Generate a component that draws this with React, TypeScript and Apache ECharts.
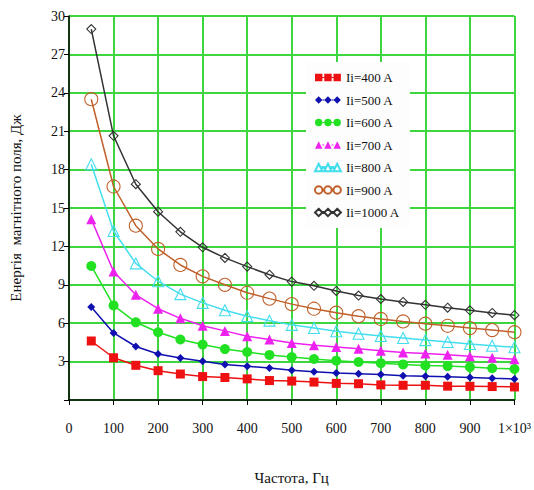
import React, { useEffect, useRef } from "react";
import * as echarts from "echarts";

const frequencies = [50, 100, 150, 200, 250, 300, 350, 400, 450, 500, 550, 600, 650, 700, 750, 800, 850, 900, 950, 1000];
const seriesNames = ["Ii=400 A", "Ii=500 A", "Ii=600 A", "Ii=700 A", "Ii=800 A", "Ii=900 A", "Ii=1000 A"];
const i400 = [4.61, 3.3, 2.71, 2.29, 2.03, 1.83, 1.76, 1.65, 1.52, 1.48, 1.4, 1.3, 1.27, 1.18, 1.15, 1.15, 1.08, 1.07, 1.05, 1.02];
const i500 = [7.26, 5.24, 4.18, 3.6, 3.28, 3.02, 2.77, 2.64, 2.5, 2.33, 2.21, 2.1, 2.06, 2.0, 1.9, 1.86, 1.82, 1.76, 1.7, 1.65];
const i600 = [10.47, 7.39, 6.07, 5.29, 4.73, 4.33, 3.98, 3.75, 3.52, 3.35, 3.2, 3.07, 2.97, 2.88, 2.78, 2.7, 2.65, 2.57, 2.48, 2.42];
const i700 = [14.13, 10.04, 8.22, 7.13, 6.38, 5.8, 5.4, 4.98, 4.73, 4.46, 4.28, 4.14, 4.01, 3.85, 3.72, 3.63, 3.53, 3.42, 3.3, 3.18];
const i800 = [18.42, 13.2, 10.67, 9.28, 8.27, 7.59, 7.01, 6.55, 6.2, 5.87, 5.62, 5.37, 5.17, 5.0, 4.84, 4.68, 4.53, 4.38, 4.24, 4.12];
const i900 = [23.5, 16.68, 13.62, 11.8, 10.55, 9.66, 9.0, 8.38, 7.92, 7.49, 7.13, 6.82, 6.55, 6.33, 6.14, 5.96, 5.8, 5.62, 5.46, 5.3];
const i1000 = [28.98, 20.64, 16.86, 14.71, 13.14, 11.93, 11.1, 10.42, 9.79, 9.25, 8.92, 8.52, 8.16, 7.89, 7.66, 7.44, 7.21, 7.01, 6.8, 6.63];
const xTickLabels = ["0", "100", "200", "300", "400", "500", "600", "700", "800", "900", "1×10³"];

const FONT = "Liberation Serif";

// legend icons: three small markers joined by a thin line (28 x 8 box)
const joiner = "M8 3.5h2v1h-2z M18 3.5h2v1h-2z";
const tri = (x: number) => `M${x + 4} 0L${x + 8} 8L${x} 8Z`;
const dia = (x: number) => `M${x + 4} 0L${x + 8} 4L${x + 4} 8L${x} 4Z`;
const sq = (x: number) => `M${x} 0h8v8h-8Z`;
const circ = (x: number) => `M${x} 4a4 4 0 1 0 8 0a4 4 0 1 0 -8 0Z`;
const icon3 = (f: (x: number) => string) => `path://${f(0)} ${f(10)} ${f(20)} ${joiner}`;

export default function App() {
  const ref = useRef<HTMLDivElement>(null);
  useEffect(() => {
    if (!ref.current) return;
    const chart = echarts.init(ref.current, null, { renderer: "svg" });
    const allData = [i400, i500, i600, i700, i800, i900, i1000];
    const styles = [
      { color: "#ee1111", symbol: "rect", size: 9, fill: true, icon: icon3(sq) },
      { color: "#1010b0", symbol: "diamond", size: 8, fill: true, icon: icon3(dia) },
      { color: "#22e022", symbol: "circle", size: 10, fill: true, icon: icon3(circ) },
      { color: "#ee22ee", symbol: "triangle", size: 10, fill: true, icon: icon3(tri) },
      { color: "#44ddee", symbol: "triangle", size: 11, fill: false, icon: icon3(tri) },
      { color: "#c0602a", symbol: "circle", size: 13, fill: false, icon: icon3(circ) },
      { color: "#333333", symbol: "diamond", size: 9, fill: false, icon: icon3(dia) },
    ];
    const series = allData.map((vals, k) => {
      const s = styles[k];
      return {
        name: seriesNames[k],
        type: "line",
        data: frequencies.map((f, i) => [f, vals[i]]),
        symbol: s.symbol,
        symbolSize: s.size,
        showSymbol: true,
        lineStyle: { color: s.color, width: 1.5 },
        itemStyle: s.fill
          ? { color: s.color, borderColor: s.color, borderWidth: 0 }
          : { color: "rgba(255,255,255,0)", borderColor: s.color, borderWidth: 1.1 },
        z: 3 + k,
      };
    });
    chart.setOption({
      animation: false,
      backgroundColor: "#ffffff",
      grid: { left: 65, right: 19, top: 16, bottom: 78, containLabel: false },
      legend: {
        orient: "vertical",
        left: 306,
        top: 62,
        itemWidth: 26,
        itemHeight: 7.4,
        itemGap: 9.5,
        padding: [9, 10, 9, 8],
        backgroundColor: "#fdfdfd",
        data: seriesNames.map((n, k) => ({ name: n, icon: styles[k].icon })),
        textStyle: { fontFamily: FONT, fontSize: 13, color: "#111" },
        z: 20,
      },
      xAxis: {
        type: "value",
        min: 0,
        max: 1000,
        interval: 100,
        name: "Частота, Гц",
        nameLocation: "middle",
        nameGap: 70,
        nameTextStyle: { fontFamily: FONT, fontSize: 15, color: "#111" },
        axisLine: { show: true, onZero: false, lineStyle: { color: "#000", width: 1.5 } },
        axisTick: { show: true, length: 5, lineStyle: { color: "#000" } },
        splitLine: { show: true, lineStyle: { color: "#3ed63e", width: 2 } },
        axisLabel: {
          margin: 21,
          fontFamily: FONT,
          fontSize: 14,
          color: "#111",
          formatter: (v: number) => xTickLabels[Math.round(v / 100)] ?? "",
        },
      },
      yAxis: {
        type: "value",
        min: 0,
        max: 30,
        interval: 3,
        name: "Енергія  магнітного поля, Дж",
        nameLocation: "middle",
        nameRotate: 90,
        nameGap: 46,
        nameTextStyle: { fontFamily: FONT, fontSize: 15, color: "#111" },
        axisLine: { show: true, lineStyle: { color: "#000", width: 1.5 } },
        axisTick: { show: true, length: 5, lineStyle: { color: "#000" } },
        splitLine: { show: true, lineStyle: { color: "#3ed63e", width: 2 } },
        axisLabel: {
          margin: 4,
          fontFamily: FONT,
          fontSize: 14,
          color: "#111",
          formatter: (v: number) => (v === 0 ? "" : String(v)),
        },
      },
      series,
    });
    return () => chart.dispose();
  }, []);
  return (
    <div
      ref={ref}
      style={{ position: "fixed", left: 0, top: 0, width: 534, height: 490, background: "#fff" }}
    />
  );
}
